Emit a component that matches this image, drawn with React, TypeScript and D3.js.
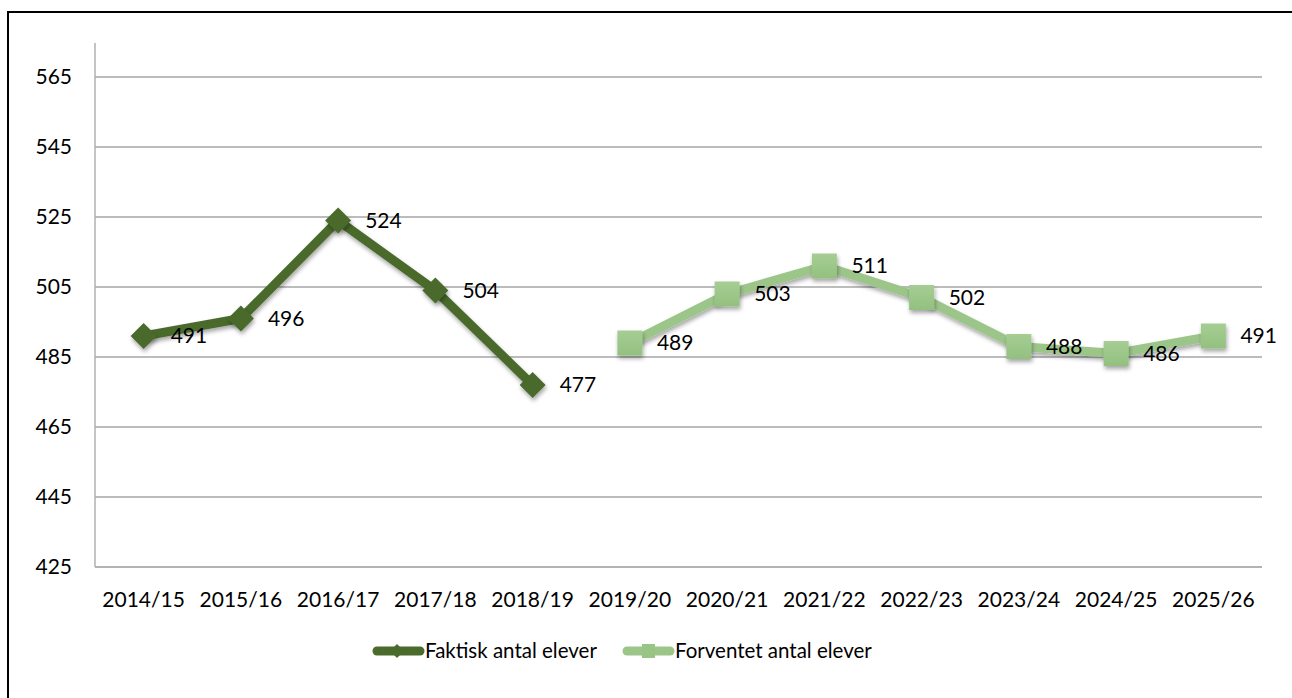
import React from "react";
import * as d3 from "d3";

const categories = ["2014/15","2015/16","2016/17","2017/18","2018/19","2019/20","2020/21","2021/22","2022/23","2023/24","2024/25","2025/26"];
const faktisk: (number | null)[] = [491, 496, 524, 504, 477, null, null, null, null, null, null, null];
const forventet: (number | null)[] = [null, null, null, null, null, 489, 503, 511, 502, 488, 486, 491];
const yTicks = [425, 445, 465, 485, 505, 525, 545, 565];
const seriesNames = ["Faktisk antal elever", "Forventet antal elever"];

const W = 1292, H = 698;
const left = 95, right = 1262, top = 43, bottom = 567;
const DARK = "#4a6b2b";
const LIGHT = "#9cc689";
const FONT = "Lato, 'Open Sans', sans-serif";

export default function App() {
  const x = d3.scaleBand<string>().domain(categories).range([left, right]).padding(0);
  const cx = (c: string) => (x(c) as number) + x.bandwidth() / 2;
  const y = d3.scaleLinear().domain([425, 565]).range([bottom, bottom - 140 * 3.5]);

  const line = d3.line<{ c: string; v: number | null }>()
    .defined(d => d.v !== null)
    .x(d => cx(d.c))
    .y(d => y(d.v as number));

  const fd = categories.map((c, i) => ({ c, v: faktisk[i] }));
  const fv = categories.map((c, i) => ({ c, v: forventet[i] }));

  const diamond = (px: number, py: number, r: number) =>
    `M${px},${py - r}L${px + r},${py}L${px},${py + r}L${px - r},${py}Z`;

  return (
    <svg width={W} height={H} style={{ position: "fixed", left: 0, top: 0, background: "#fff" }}>
      <defs>
        <filter id="sh" x="-50%" y="-50%" width="200%" height="200%">
          <feDropShadow dx="1" dy="3" stdDeviation="2" floodColor="#000" floodOpacity="0.35" />
        </filter>
        <linearGradient id="sq" x1="0" y1="0" x2="0" y2="1">
          <stop offset="0" stopColor="#a6cd94" />
          <stop offset="0.5" stopColor="#9cc78a" />
          <stop offset="1" stopColor="#93c07f" />
        </linearGradient>
      </defs>
      <rect x={0} y={0} width={W} height={H} fill="#fff" />
      {/* frame */}
      <line x1={7} y1={12} x2={W} y2={12} stroke="#000" strokeWidth={2} />
      <line x1={8} y1={11} x2={8} y2={H} stroke="#000" strokeWidth={2} />

      {/* gridlines */}
      {yTicks.map(t => (
        <line key={t} x1={left} x2={right} y1={y(t)} y2={y(t)} stroke="#a6a6a6" strokeWidth={1.3} />
      ))}
      <line x1={left} x2={left} y1={top} y2={bottom} stroke="#b0b0b0" strokeWidth={1.5} />
      <line x1={left} x2={right} y1={bottom} y2={bottom} stroke="#b0b0b0" strokeWidth={1.5} />

      {/* y labels */}
      {yTicks.map(t => (
        <text key={t} x={72} y={y(t)} dy="0.35em" textAnchor="end" fontFamily={FONT} fontSize={21} fill="#000">{t}</text>
      ))}
      {/* x labels */}
      {categories.map(c => (
        <text key={c} x={cx(c)} y={607} textAnchor="middle" fontFamily={FONT} fontSize={21} fill="#000">{c}</text>
      ))}

      {/* lines */}
      <path d={line(fd) || ""} fill="none" stroke={DARK} strokeWidth={9} strokeLinejoin="round" filter="url(#sh)" />
      <path d={line(fv) || ""} fill="none" stroke={LIGHT} strokeWidth={9} strokeLinejoin="round" filter="url(#sh)" />

      {/* markers */}
      {fd.filter(d => d.v !== null).map(d => (
        <path key={d.c} d={diamond(cx(d.c), y(d.v as number), 13)} fill={DARK} filter="url(#sh)" />
      ))}
      {fv.filter(d => d.v !== null).map(d => (
        <rect key={d.c} x={cx(d.c) - 12.5} y={y(d.v as number) - 12.5} width={25} height={25} fill="url(#sq)" filter="url(#sh)" />
      ))}

      {/* data labels */}
      {[...fd, ...fv].filter(d => d.v !== null).map((d, i) => (
        <text key={i} x={cx(d.c) + 27} y={y(d.v as number)} dy="0.35em" fontFamily={FONT} fontSize={21} fill="#000">{d.v}</text>
      ))}

      {/* legend */}
      <line x1={377} x2={420} y1={651} y2={651} stroke={DARK} strokeWidth={9} strokeLinecap="round" />
      <path d={diamond(397, 651, 7)} fill={DARK} />
      <text x={425} y={651} dy="0.35em" fontFamily={FONT} fontSize={20.5} fill="#000">{seriesNames[0]}</text>
      <line x1={627} x2={670} y1={651} y2={651} stroke={LIGHT} strokeWidth={9} strokeLinecap="round" />
      <rect x={642} y={644} width={13} height={14} fill="#98c486" />
      <text x={675} y={651} dy="0.35em" fontFamily={FONT} fontSize={20.5} fill="#000">{seriesNames[1]}</text>
    </svg>
  );
}
